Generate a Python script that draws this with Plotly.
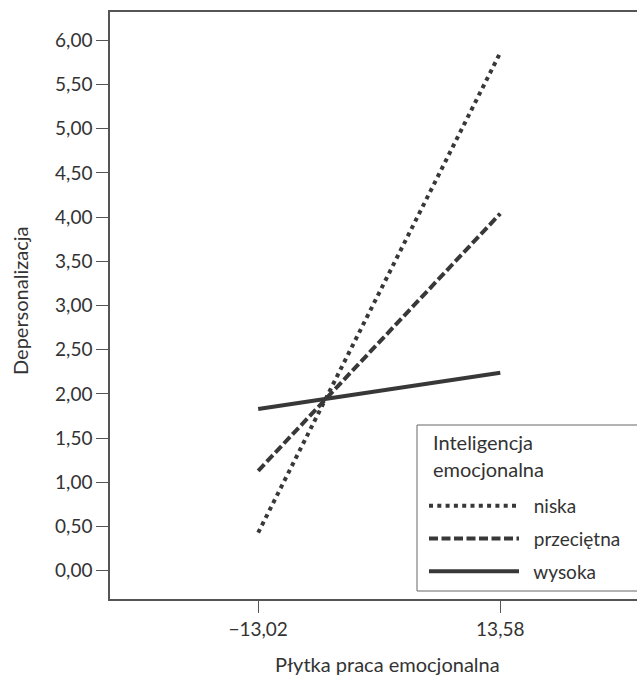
import plotly.graph_objects as go

x_vals = [-13.02, 13.58]
x_tick_labels = ["\u221213,02", "13,58"]
niska = [0.43, 5.86]
przecietna = [1.13, 4.04]
wysoka = [1.83, 2.24]
series_names = ["niska", "przeci\u0119tna", "wysoka"]
legend_title_lines = ["Inteligencja", "emocjonalna"]
x_title = "P\u0142ytka praca emocjonalna"
y_title = "Depersonalizacja"
y_ticks = [0, 0.5, 1, 1.5, 2, 2.5, 3, 3.5, 4, 4.5, 5, 5.5, 6]
y_tick_labels = [f"{v:.2f}".replace(".", ",") for v in y_ticks]

LINE = "#383838"
TXT = "#333333"
FONT = "Lato"
FS = 19
FS_TITLE = 20

L, T, W, H = 110, 12, 527, 587  # plot area in px


def px_x(p):
    return (p - L) / W


def px_y(p):
    return 1 - (p - T) / H


fig = go.Figure()
dashes = ["4px,4.3px", "9px,3.5px", "solid"]
for i, (name, ys) in enumerate(zip(series_names, [niska, przecietna, wysoka])):
    fig.add_trace(go.Scatter(
        x=x_vals, y=ys, mode="lines", name="\u00a0\u00a0" + name,
        legendgroup=f"g{i}",
        line=dict(color=LINE, width=4, dash=dashes[i]),
    ))

# legend frame (extends past the right edge, as in the reference)
fig.add_shape(type="rect", xref="paper", yref="paper",
              x0=px_x(417), x1=px_x(720), y0=px_y(591), y1=px_y(425),
              line=dict(color="#666666", width=1), fillcolor="white", layer="below")
for j, (txt, yc) in enumerate(zip(legend_title_lines, [442, 469])):
    fig.add_annotation(text=txt, xref="paper", yref="paper",
                       x=px_x(431), y=px_y(yc), xanchor="left", yanchor="middle",
                       showarrow=False, font=dict(size=FS + 1, family=FONT, color=TXT))

# axis titles (placed as in the reference, slightly off the plot-area centre)
fig.add_annotation(text=x_title, xref="paper", yref="paper",
                   x=px_x(387), y=px_y(664), xanchor="center", yanchor="middle",
                   showarrow=False, font=dict(size=FS_TITLE, family=FONT, color=TXT))
fig.add_annotation(text=y_title, xref="paper", yref="paper", textangle=-90,
                   x=px_x(20), y=px_y(301), xanchor="center", yanchor="middle",
                   showarrow=False, font=dict(size=FS_TITLE, family=FONT, color=TXT))

fig.update_layout(
    width=637, height=677,
    margin=dict(l=L, r=0, t=T, b=677 - T - H),
    paper_bgcolor="white", plot_bgcolor="white",
    font=dict(family=FONT, size=FS, color=TXT),
    showlegend=True,
    legend=dict(
        x=px_x(424), y=px_y(487), xanchor="left", yanchor="top",
        borderwidth=0, bgcolor="rgba(0,0,0,0)",
        itemwidth=90, tracegroupgap=5,
        font=dict(size=FS, family=FONT, color=TXT),
    ),
    xaxis=dict(
        range=[-29.3, 28.6], tickmode="array", tickvals=x_vals, ticktext=x_tick_labels,
        tickfont=dict(size=FS, family=FONT, color=TXT),
        showgrid=False, zeroline=False, showline=True, linecolor="#555555", linewidth=1.5,
        mirror=True, ticks="outside", ticklen=12, tickcolor="#555555", tickwidth=1.2,
    ),
    yaxis=dict(
        range=[-0.32, 6.32], tickmode="array", tickvals=y_ticks, ticktext=y_tick_labels,
        tickfont=dict(size=FS, family=FONT, color=TXT),
        showgrid=False, zeroline=False, showline=True, linecolor="#555555", linewidth=1.5,
        ticks="outside", ticklen=12, tickcolor="#555555", tickwidth=1.2,
    ),
)

fig.write_html("out.html")
